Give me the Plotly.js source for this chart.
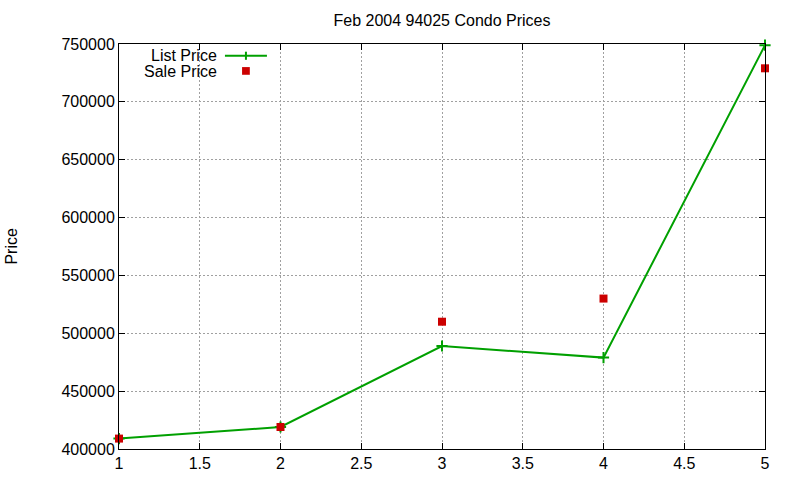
<!DOCTYPE html>
<html>
<head>
<meta charset="utf-8">
<script src="https://cdn.plot.ly/plotly-3.0.1.min.js"></script>
<style>html,body{margin:0;padding:0;background:#fff;}#chart{width:800px;height:480px;}</style>
</head>
<body>
<div id="chart"></div>
<script>
const xValues = [1, 2, 3, 4, 5];
const listPrice = [409000, 419000, 489000, 479000, 749000];
const salePrice = [409000, 419000, 510000, 530000, 729000];
const titleText = "Feb 2004 94025 Condo Prices";
const yTitle = "Price";
const seriesNames = ["List Price", "Sale Price"];

const green = "#00a000";
const red = "#cc0000";
const font = "Liberation Sans, Arial, sans-serif";
const fs = 16;

const traces = [
  {x: xValues, y: listPrice, mode: "lines+markers", name: seriesNames[0],
   line: {color: green, width: 2},
   marker: {symbol: "cross-thin-open", size: 8, color: green, line: {color: green, width: 2}},
   cliponaxis: false, showlegend: false},
  {x: xValues, y: salePrice, mode: "markers", name: seriesNames[1],
   marker: {symbol: "square", size: 8, color: red},
   cliponaxis: false, showlegend: false}
];

const axisCommon = {
  showline: true, mirror: "ticks", linecolor: "#000", linewidth: 1,
  ticks: "inside", ticklen: 6, tickcolor: "#000",
  showgrid: true, gridcolor: "#a0a0a0", griddash: "2px,2px", gridwidth: 1,
  zeroline: false, tickfont: {family: font, size: fs, color: "#000"}
};

const layout = {
  width: 800, height: 480,
  margin: {l: 119, r: 35, t: 44, b: 31},
  paper_bgcolor: "#fff", plot_bgcolor: "#fff",
  title: {text: titleText, font: {family: font, size: fs, color: "#000"},
          x: 0.5, xref: "paper", y: 0.958, yanchor: "middle"},
  xaxis: Object.assign({}, axisCommon, {range: [1, 5], dtick: 0.5, tick0: 1}),
  yaxis: Object.assign({}, axisCommon, {range: [400000, 750000], dtick: 50000, tickformat: "d"}),
  showlegend: false,
  annotations: [
    {xref: "paper", yref: "paper", x: -0.167, y: 0.5, xanchor: "center", yanchor: "middle",
     textangle: -90, text: yTitle, showarrow: false, font: {family: font, size: fs, color: "#000"}},
    {xref: "paper", yref: "paper", x: 0.155, y: 0.971, xanchor: "right", yanchor: "middle",
     text: seriesNames[0], showarrow: false, font: {family: font, size: fs, color: "#000"}},
    {xref: "paper", yref: "paper", x: 0.155, y: 0.933, xanchor: "right", yanchor: "middle",
     text: seriesNames[1], showarrow: false, font: {family: font, size: fs, color: "#000"}}
  ],
  shapes: [
    {type: "line", xref: "paper", yref: "paper", x0: 0.164, x1: 0.229, y0: 0.971, y1: 0.971,
     line: {color: green, width: 2}},
    {type: "line", xref: "paper", yref: "paper", x0: 0.1965, x1: 0.1965, y0: 0.961, y1: 0.981,
     line: {color: green, width: 2}},
    {type: "rect", xref: "paper", yref: "paper", x0: 0.1905, x1: 0.2025, y0: 0.924, y1: 0.943,
     fillcolor: red, line: {width: 0}}
  ]
};

Plotly.newPlot("chart", traces, layout, {staticPlot: true, displayModeBar: false});
</script>
</body>
</html>
